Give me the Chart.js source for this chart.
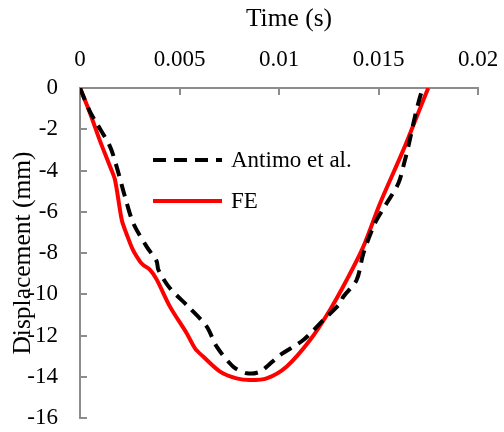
<!DOCTYPE html>
<html lang="en">
<head>
  <meta charset="UTF-8">
  <title>Displacement vs time</title>
  <script src="https://cdn.jsdelivr.net/npm/chart.js"></script>
  <style>
    html, body { margin: 0; padding: 0; background: #fff; }
    #wrap { width: 504px; height: 432px; }
  </style>
</head>
<body>
<div id="wrap">
  <canvas id="dispChart"></canvas>
</div>

<script>
  // values
  const timeAntimo = [0, 0.0005, 0.00084, 0.00151, 0.00184, 0.00226, 0.00268, 0.00335, 0.00385, 0.00394,
    0.00452, 0.00553, 0.00637, 0.00687, 0.0077, 0.00838, 0.00905, 0.01005, 0.01122, 0.01223,
    0.01307, 0.01323, 0.0139, 0.01424, 0.01482, 0.01541, 0.016, 0.01633, 0.0165, 0.01683, 0.01709, 0.01724];
  const dispAntimo = [0, -1.15, -1.71, -2.84, -3.81, -5.27, -6.56, -7.69, -8.4, -8.82,
    -9.71, -10.68, -11.57, -12.54, -13.51, -13.83, -13.75, -12.95, -12.22, -11.25,
    -10.44, -10.12, -9.31, -8.02, -6.56, -5.59, -4.62, -3.49, -2.84, -1.39, -0.42, 0];

  const timeFE = [0, 0.0005, 0.001, 0.00151, 0.00176, 0.0021, 0.00235, 0.00266, 0.00302, 0.00318,
    0.00352, 0.00385, 0.00452, 0.00536, 0.00578, 0.0062, 0.00704, 0.00787, 0.00854, 0.00938,
    0.01039, 0.01156, 0.01256, 0.0134, 0.01424, 0.01508, 0.01625, 0.01692, 0.0175];
  const dispFE = [0, -1.21, -2.55, -3.81, -4.46, -6.4, -7.1, -7.85, -8.42, -8.58,
    -8.82, -9.28, -10.6, -11.89, -12.62, -13.03, -13.75, -14.08, -14.16, -14.08,
    -13.5, -12.22, -10.76, -9.31, -7.69, -5.59, -3.0, -1.39, 0];

  const seriesNames = ['Antimo et al.', 'FE'];
  const xTicks = [0, 0.005, 0.01, 0.015, 0.02];
  const yTicks = [0, -2, -4, -6, -8, -10, -12, -14, -16];
  const xTitle = 'Time (s)';

  const FONT = "'Liberation Serif', 'Times New Roman', serif";
  const AXIS_GRAY = '#8c8c8c';

  function pts(xs, ys) {
    return xs.map((x, i) => ({ x: x, y: ys[i] }));
  }

  // inward tick marks like the original
  const innerTicks = {
    id: 'innerTicks',
    beforeDatasetsDraw(chart) {
      const ctx = chart.ctx;
      const { x, y } = chart.scales;
      const len = 7;
      ctx.save();
      ctx.strokeStyle = AXIS_GRAY;
      ctx.lineWidth = 2;
      ctx.beginPath();
      for (const t of xTicks) {
        const px = Math.round(x.getPixelForValue(t));
        ctx.moveTo(px, y.top);
        ctx.lineTo(px, y.top + len);
      }
      for (const t of yTicks) {
        const py = Math.round(y.getPixelForValue(t));
        ctx.moveTo(x.left, py);
        ctx.lineTo(x.left + len, py);
      }
      ctx.stroke();
      ctx.restore();
    }
  };

  // x title sits a little right of centre in the original
  const topTitle = {
    id: 'topTitle',
    afterDraw(chart) {
      const ctx = chart.ctx;
      const area = chart.chartArea;
      ctx.save();
      ctx.fillStyle = '#000';
      ctx.font = '25.5px ' + FONT;
      ctx.textAlign = 'center';
      ctx.textBaseline = 'middle';
      ctx.fillText(xTitle, (area.left + area.right) / 2 + 10, 19);
      ctx.restore();
    }
  };

  // legend drawn inside the plot
  const insideLegend = {
    id: 'insideLegend',
    afterDatasetsDraw(chart) {
      const ctx = chart.ctx;
      const rows = [160, 201];
      ctx.save();
      chart.data.datasets.forEach((ds, i) => {
        const yy = rows[i];
        ctx.strokeStyle = ds.borderColor;
        ctx.lineWidth = ds.borderWidth;
        ctx.setLineDash(ds.borderDash || []);
        ctx.lineCap = 'butt';
        ctx.beginPath();
        ctx.moveTo(153, yy);
        ctx.lineTo(222, yy);
        ctx.stroke();
        ctx.setLineDash([]);
        ctx.fillStyle = '#000';
        ctx.font = '23px ' + FONT;
        ctx.textBaseline = 'middle';
        ctx.textAlign = 'left';
        ctx.fillText(ds.label, 231, yy + 1);
      });
      ctx.restore();
    }
  };

  new Chart(document.getElementById('dispChart'), {
    type: 'line',
    data: {
      datasets: [
        {
          label: seriesNames[0],
          data: pts(timeAntimo, dispAntimo),
          borderColor: '#000000',
          borderWidth: 4,
          borderDash: [13, 8],
          pointRadius: 0,
          fill: false,
          tension: 0.3
        },
        {
          label: seriesNames[1],
          data: pts(timeFE, dispFE),
          borderColor: '#ff0000',
          borderWidth: 4,
          pointRadius: 0,
          fill: false,
          tension: 0.3
        }
      ]
    },
    options: {
      animation: false,
      responsive: true,
      maintainAspectRatio: false,
      layout: { padding: { left: 0, top: 0, right: 26, bottom: 14 } },
      plugins: {
        legend: { display: false },
        tooltip: { enabled: false }
      },
      scales: {
        x: {
          type: 'linear',
          position: 'top',
          min: 0,
          max: 0.02,
          afterFit(s) { s.height = 88; s.paddingLeft = 0; s.paddingRight = 0; },
          afterBuildTicks(s) { s.ticks = xTicks.map(v => ({ value: v })); },
          grid: { display: true, drawOnChartArea: false, drawTicks: false },
          border: { display: true, color: AXIS_GRAY, width: 2 },
          ticks: {
            padding: 14,
            color: '#000',
            font: { family: FONT, size: 23 },
            maxRotation: 0,
            callback: v => String(v)
          },
          title: { display: false }
        },
        y: {
          type: 'linear',
          min: -16,
          max: 0,
          afterFit(s) { s.width = 80; s.paddingTop = 0; s.paddingBottom = 0; },
          afterBuildTicks(s) { s.ticks = yTicks.map(v => ({ value: v })); },
          grid: { display: true, drawOnChartArea: false, drawTicks: false },
          border: { display: true, color: AXIS_GRAY, width: 2 },
          ticks: {
            padding: 22,
            color: '#000',
            font: { family: FONT, size: 23 }
          },
          title: {
            display: true,
            text: 'Displacement (mm)',
            color: '#000',
            font: { family: FONT, size: 25.5 },
            padding: { top: 8, bottom: 0 }
          }
        }
      }
    },
    plugins: [innerTicks, topTitle, insideLegend]
  });
</script>
</body>
</html>
